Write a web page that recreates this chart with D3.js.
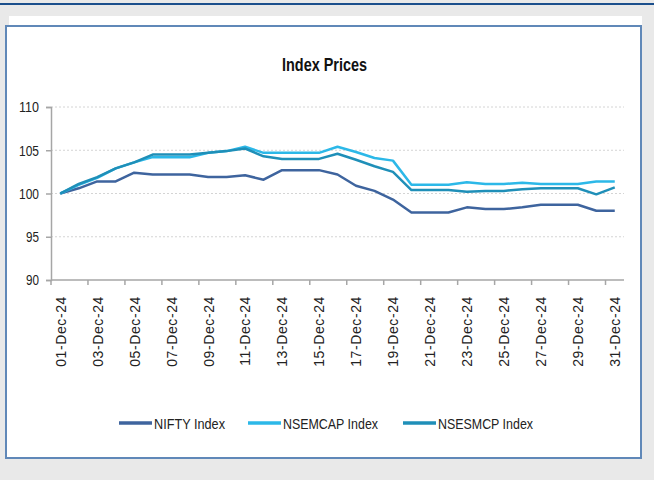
<!DOCTYPE html>
<html>
<head>
<meta charset="utf-8">
<script src="https://cdn.jsdelivr.net/npm/d3@7"></script>
<style>
  body { margin: 0; background: #e9e9e9; }
  svg { display: block; }
</style>
</head>
<body>
<div id="chart"></div>
<script>
// Data
const dates = ["01-Dec-24","02-Dec-24","03-Dec-24","04-Dec-24","05-Dec-24","06-Dec-24","07-Dec-24","08-Dec-24",
  "09-Dec-24","10-Dec-24","11-Dec-24","12-Dec-24","13-Dec-24","14-Dec-24","15-Dec-24","16-Dec-24",
  "17-Dec-24","18-Dec-24","19-Dec-24","20-Dec-24","21-Dec-24","22-Dec-24","23-Dec-24","24-Dec-24",
  "25-Dec-24","26-Dec-24","27-Dec-24","28-Dec-24","29-Dec-24","30-Dec-24","31-Dec-24"];
const nifty = [100, 100.6, 101.4, 101.4, 102.4, 102.2, 102.2, 102.2, 101.9, 101.9, 102.1, 101.6, 102.7, 102.7, 102.7,
  102.2, 100.9, 100.3, 99.3, 97.8, 97.8, 97.8, 98.4, 98.2, 98.2, 98.4, 98.7, 98.7, 98.7, 98.0, 98.0];
const nsemcap = [100, 101.0, 101.8, 102.9, 103.6, 104.2, 104.2, 104.2, 104.7, 104.9, 105.4, 104.7, 104.7, 104.7, 104.7,
  105.4, 104.8, 104.1, 103.8, 101.0, 101.0, 101.0, 101.3, 101.1, 101.1, 101.25, 101.1, 101.1, 101.1, 101.4, 101.4];
const nsesmcp = [100, 101.1, 101.9, 102.9, 103.6, 104.5, 104.5, 104.5, 104.7, 104.9, 105.2, 104.3, 104.0, 104.0, 104.0,
  104.6, 103.9, 103.15, 102.5, 100.4, 100.4, 100.4, 100.2, 100.3, 100.3, 100.5, 100.6, 100.6, 100.6, 99.9, 100.7];
const seriesNames = ["NIFTY Index", "NSEMCAP Index", "NSESMCP Index"];
const yTicks = [90, 95, 100, 105, 110];

const colors = ["#3e649e", "#2cb8e8", "#1f8fb8"];
const sans = "'Liberation Sans', Arial, sans-serif";

const W = 654, H = 480;
const plot = { left: 51, right: 624, top: 107, bottom: 280 };

const svg = d3.select("#chart").append("svg")
  .attr("width", W)
  .attr("height", H);

// page background + top rule
svg.append("rect").attr("width", W).attr("height", H).attr("fill", "#e9e9e9");
svg.append("rect").attr("x", 0).attr("y", 3).attr("width", W).attr("height", 2).attr("fill", "#1b4f8c");
svg.append("rect").attr("x", 9).attr("y", 16).attr("width", 633).attr("height", 10).attr("fill", "#fff");

// chart box
svg.append("rect")
  .attr("x", 6).attr("y", 26).attr("width", 635).attr("height", 432)
  .attr("fill", "#fff")
  .attr("stroke", "#6088b8")
  .attr("stroke-width", 2);

// title (squeezed to look like the condensed original)
svg.append("text")
  .attr("x", 282).attr("y", 71)
  .attr("textLength", 85)
  .attr("lengthAdjust", "spacingAndGlyphs")
  .style("font-family", sans)
  .style("font-size", "18px")
  .style("font-weight", "bold")
  .attr("fill", "#111")
  .text("Index Prices");

// scales
const x = d3.scalePoint().domain(dates).range([plot.left, plot.right]).padding(0.5);
const y = d3.scaleLinear().domain([90, 110]).range([plot.bottom, plot.top]);
const step = x.step();

// gridlines
svg.append("g")
  .selectAll("line")
  .data(yTicks.slice(1))
  .join("line")
    .attr("x1", plot.left).attr("x2", plot.right)
    .attr("y1", d => y(d)).attr("y2", d => y(d))
    .attr("stroke", "#d4d4d4")
    .attr("stroke-dasharray", "2,2");

// y axis
const yAxis = svg.append("g")
  .attr("transform", `translate(${plot.left},0)`)
  .call(d3.axisLeft(y).tickValues(yTicks).tickSize(5).tickPadding(7));
yAxis.select(".domain").attr("stroke", "#a6a6a6").attr("stroke-width", 1.5);
yAxis.selectAll(".tick line").attr("stroke", "#a6a6a6").attr("stroke-width", 1.5);
yAxis.selectAll("text")
  .attr("textLength", d => d >= 100 ? 20 : 13)
  .attr("lengthAdjust", "spacingAndGlyphs")
  .style("font-family", sans)
  .style("font-size", "15px")
  .attr("fill", "#222");

// x axis
const xAxis = svg.append("g")
  .attr("transform", `translate(0,${plot.bottom})`)
  .call(d3.axisBottom(x).tickValues(dates.filter((d, i) => i % 2 === 0)).tickSize(0).tickSizeOuter(0));
xAxis.select(".domain").attr("stroke", "#a6a6a6").attr("stroke-width", 1.5)
  .attr("d", `M${plot.left},0H${plot.right}`);
xAxis.selectAll(".tick text")
  .attr("transform", "rotate(-90)")
  .attr("text-anchor", "end")
  .attr("x", -16)
  .attr("y", 0)
  .attr("dy", "0.35em")
  .style("font-family", sans)
  .style("font-size", "14px")
  .style("letter-spacing", "0.6px")
  .attr("fill", "#222");

// tick marks sit between categories, every second one
xAxis.append("g")
  .selectAll("line")
  .data(dates.filter((d, i) => i % 2 === 0))
  .join("line")
    .attr("x1", d => x(d) - step / 2).attr("x2", d => x(d) - step / 2)
    .attr("y1", 0).attr("y2", 5)
    .attr("stroke", "#a6a6a6")
    .attr("stroke-width", 1.5);

// lines
const line = d3.line()
  .x((d, i) => x(dates[i]))
  .y(d => y(d));

[nifty, nsemcap, nsesmcp].forEach((vals, k) => {
  svg.append("path")
    .datum(vals)
    .attr("fill", "none")
    .attr("stroke", colors[k])
    .attr("stroke-width", 2.5)
    .attr("stroke-linejoin", "round")
    .attr("d", line);
});

// legend
const legendX = [119, 248, 403];
const legendW = [71, 95, 95];
const legend = svg.append("g");
seriesNames.forEach((name, k) => {
  legend.append("line")
    .attr("x1", legendX[k]).attr("x2", legendX[k] + 33)
    .attr("y1", 423).attr("y2", 423)
    .attr("stroke", colors[k])
    .attr("stroke-width", 3.5);
  legend.append("text")
    .attr("x", legendX[k] + 35).attr("y", 429)
    .attr("textLength", legendW[k])
    .attr("lengthAdjust", "spacingAndGlyphs")
    .style("font-family", sans)
    .style("font-size", "15px")
    .attr("fill", "#222")
    .text(name);
});
</script>
</body>
</html>
